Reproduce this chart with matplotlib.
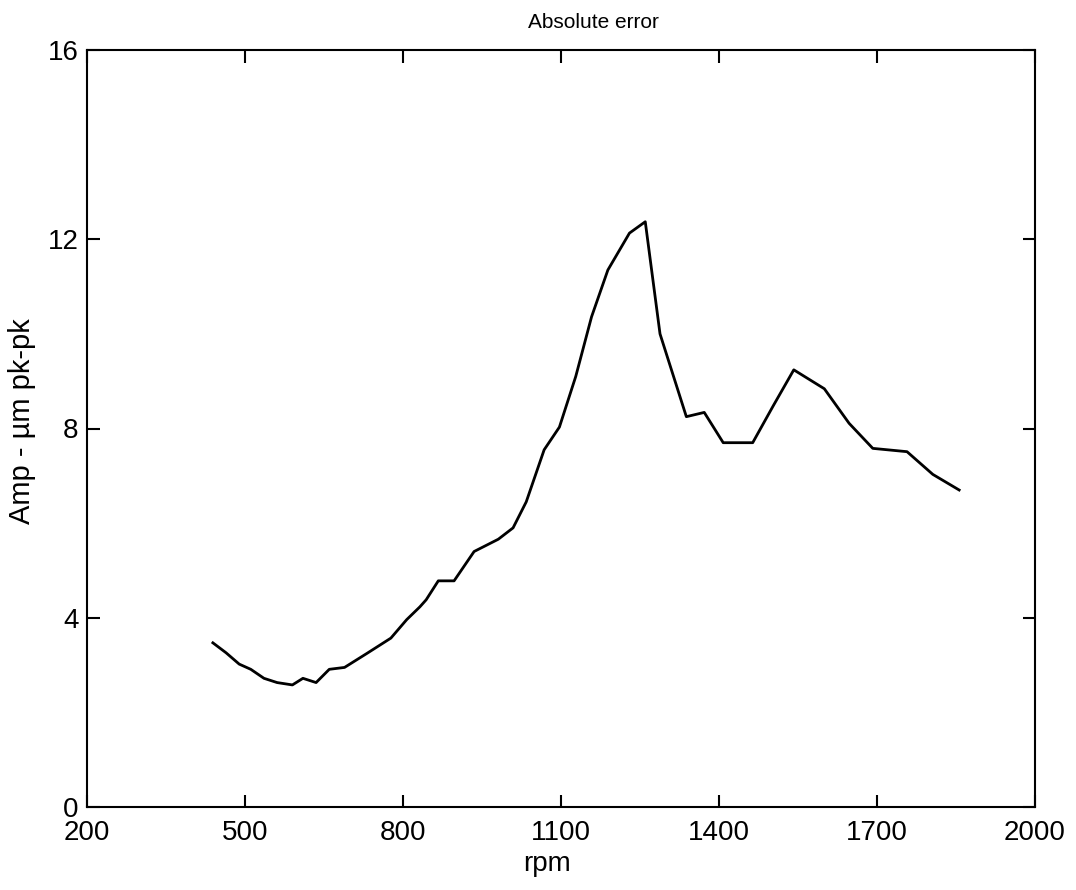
import matplotlib
matplotlib.use("Agg")
import matplotlib.pyplot as plt

rpm = [439, 464, 489, 511, 536, 561, 590, 610, 635, 660, 689, 732, 777, 807,
       832, 844, 867, 897, 935, 981, 1009, 1034, 1068, 1097, 1128, 1158, 1189,
       1230, 1260, 1288, 1338, 1372, 1408, 1464, 1503, 1542, 1600, 1647, 1692,
       1757, 1806, 1856]
amp = [3.47, 3.26, 3.02, 2.91, 2.72, 2.63, 2.58, 2.72, 2.63, 2.91, 2.95, 3.25,
       3.57, 3.96, 4.23, 4.38, 4.78, 4.78, 5.40, 5.66, 5.90, 6.45, 7.55, 8.03,
       9.10, 10.36, 11.35, 12.13, 12.37, 10.00, 8.25, 8.34, 7.70, 7.70, 8.48,
       9.24, 8.84, 8.11, 7.58, 7.51, 7.03, 6.70]

xticks = [200, 500, 800, 1100, 1400, 1700, 2000]
yticks = [0, 4, 8, 12, 16]

plt.rcParams['font.family'] = ['Liberation Sans', 'DejaVu Sans']

fig = plt.figure(figsize=(10.76, 8.90), dpi=100)
ax = fig.add_axes([87/1076, 83/890, 948/1076, 757/890])
ax.plot(rpm, amp, color='black', linewidth=2)
ax.set_xlim(200, 2000)
ax.set_ylim(0, 16)
ax.set_xticks(xticks)
ax.set_yticks(yticks)
ax.tick_params(direction='in', length=9, width=1.5, labelsize=20,
               top=True, right=True)
ax.tick_params(axis='x', pad=9)
ax.tick_params(axis='y', pad=6)
for s in ax.spines.values():
    s.set_linewidth(1.5)
ax.set_xlabel('rpm', fontsize=20)
ax.xaxis.set_label_coords((547 - 87) / 948, -(851 - 807) / 757)
ax.set_ylabel('Amp - µm pk-pk', fontsize=21)
ax.yaxis.set_label_coords(-(87 - 36) / 948, (807 - 421) / 757)
fig.text(593 / 1076, 1 - 28 / 890, 'Absolute error', fontsize=15,
         ha='center', va='baseline')
fig.savefig('out.png', dpi=100, facecolor='white')
